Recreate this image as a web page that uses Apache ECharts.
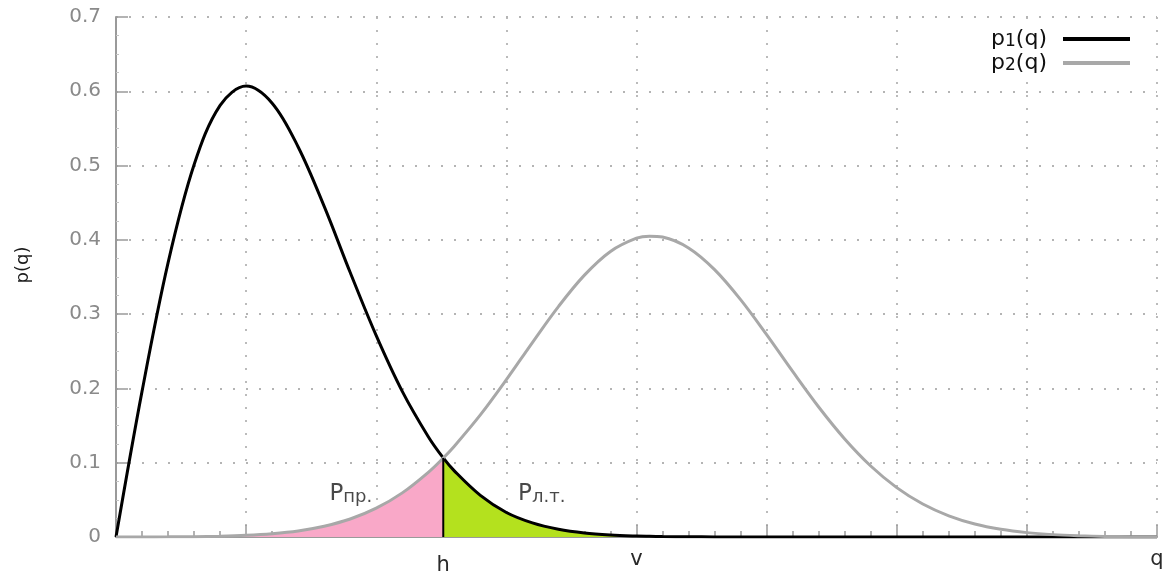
<!DOCTYPE html>
<html><head><meta charset="utf-8">
<script src="https://cdn.jsdelivr.net/npm/echarts@6/dist/echarts.min.js"></script>
<style>html,body{margin:0;padding:0;background:#fff}#c{width:1170px;height:573px}</style>
</head><body><div id="c"></div><script>
// ---- data ----
const qValues = [0,0.2,0.4,0.6,0.8,1.0,1.2,1.4,1.6,1.8,2.0,2.2,2.4,2.515,2.6,2.8,3.0,3.2,3.4,3.6,3.8,4.0,4.1,4.2,4.4,4.6,4.8,5.0,5.2,5.4,5.6,5.8,6.0,6.2,6.4,6.6,6.8,7.0,7.2,7.4,7.6,7.8,8.0];
const p1Values = [0,0.196,0.369,0.501,0.581,0.607,0.584,0.525,0.445,0.356,0.271,0.196,0.135,0.1064,0.089,0.056,0.033,0.019,0.0105,0.0055,0.0028,0.0013,0.0009,0.0006,0.0003,0.0001,0,0,0,0,0,0,0,0,0,0,0,0,0,0,0,0,0];
const p2Values = [0,0.0001,0.0002,0.0005,0.0011,0.0023,0.0045,0.0082,0.0145,0.0242,0.0388,0.0594,0.0871,0.1064,0.1223,0.1644,0.2118,0.2618,0.3102,0.3525,0.3844,0.4022,0.4050,0.4038,0.3891,0.3599,0.3195,0.2723,0.2228,0.1750,0.1320,0.0956,0.0665,0.0444,0.0285,0.0175,0.0104,0.0059,0.0032,0.0017,0.0008,0.0004,0.0002];
const hValue = 2.515;
const vValue = 4;
const qMax = 8;
const xMarkValues = [hValue, vValue, qMax];
const xMarkLabels = ['h', 'v', 'q'];
const seriesNames = ['p1(q)', 'p2(q)'];
const noteAnchors = [[1.64, 0.058], [3.09, 0.058]];
const noteMain = ['P', 'P'];
const noteSub = ['пр.', 'л.т.'];

// ---- derived ----
const p1Data = qValues.map((q, i) => [q, p1Values[i]]);
const p2Data = qValues.map((q, i) => [q, p2Values[i]]);
const pinkData = p2Data.filter(d => d[0] <= hValue);
const greenData = p1Data.filter(d => d[0] >= hValue);
const hIdx = qValues.indexOf(hValue);
const hLineData = [[hValue, 0], [hValue, p1Values[hIdx]]];

const FONT = 'DejaVu Sans';
const axisGray = '#9a9a9a';
const gridLine = {show: true, lineStyle: {color: '#b4b4b4', width: 1.8, type: [2, 11]}};

const chart = echarts.init(document.getElementById('c'), null, {renderer: 'canvas'});
chart.setOption({
  animation: false,
  backgroundColor: '#fff',
  textStyle: {fontFamily: FONT},
  grid: {left: 116, right: 13, top: 17, bottom: 36, containLabel: false, outerBoundsMode: 'none'},
  xAxis: {
    type: 'value', min: 0, max: qMax, interval: 1,
    axisLine: {show: true, onZero: false, lineStyle: {color: axisGray, width: 2}},
    axisTick: {show: true, inside: true, length: 12, lineStyle: {color: axisGray, width: 1.5}},
    minorTick: {show: true, splitNumber: 5, length: 6, lineStyle: {color: axisGray, width: 1.5}},
    splitLine: gridLine,
    axisLabel: {
      customValues: xMarkValues,
      margin: 12,
      formatter: v => {
        const i = xMarkValues.findIndex(m => Math.abs(m - v) < 1e-6);
        return i < 0 ? '' : '{' + xMarkLabels[i] + '|' + xMarkLabels[i] + '}';
      },
      rich: {
        h: {fontSize: 21, color: '#2a2a2a', fontFamily: FONT, padding: [6, 0, 0, 0]},
        v: {fontSize: 21, color: '#2a2a2a', fontFamily: FONT},
        q: {fontSize: 21, color: '#2a2a2a', fontFamily: FONT}
      }
    }
  },
  yAxis: {
    type: 'value', min: 0, max: 0.7, interval: 0.1,
    name: 'p(q)', nameLocation: 'middle', nameGap: 84, nameRotate: 90,
    nameTextStyle: {color: '#1a1a1a', fontSize: 18, fontFamily: FONT, padding: [0, 0, 0, 24]},
    axisLine: {show: true, onZero: false, lineStyle: {color: axisGray, width: 2}},
    axisTick: {show: true, inside: true, length: 12, lineStyle: {color: axisGray, width: 1.5}},
    minorTick: {show: true, splitNumber: 4, length: 3, lineStyle: {color: '#c4c4c4', width: 1}},
    splitLine: gridLine,
    axisLabel: {color: '#8a8a8a', fontSize: 20, margin: 15, fontFamily: FONT}
  },
  legend: {
    orient: 'vertical', right: 26, top: 22, align: 'right',
    itemWidth: 67, itemHeight: 4, itemGap: 2,
    backgroundColor: '#fff', padding: [6, 14, 6, 14],
    data: [{name: seriesNames[0], icon: 'rect'}, {name: seriesNames[1], icon: 'rect'}],
    formatter: name => {
      const n = name === seriesNames[0] ? '1' : '2';
      return '{m|p}{s|' + n + '}{e|(q)}';
    },
    textStyle: {
      fontFamily: FONT,
      rich: {
        m: {fontSize: 22, lineHeight: 22, color: '#111', fontFamily: FONT},
        s: {fontSize: 17, lineHeight: 12, color: '#111', verticalAlign: 'bottom', fontFamily: FONT},
        e: {fontSize: 22, lineHeight: 22, color: '#111', fontFamily: FONT, padding: [0, 11, 0, 0]}
      }
    }
  },
  series: [
    {name: 'pinkArea', type: 'line', data: pinkData, smooth: 0.35, showSymbol: false, silent: true,
      lineStyle: {width: 0}, areaStyle: {color: '#f9a8c8', opacity: 1}, z: 1},
    {name: 'greenArea', type: 'line', data: greenData, smooth: 0.35, showSymbol: false, silent: true,
      lineStyle: {width: 0}, areaStyle: {color: '#b4e11e', opacity: 1}, z: 1},
    {name: seriesNames[0], type: 'line', data: p1Data, smooth: 0.35, showSymbol: false,
      lineStyle: {color: '#000', width: 3}, itemStyle: {color: '#000'}, z: 3},
    {name: seriesNames[1], type: 'line', data: p2Data, smooth: 0.35, showSymbol: false,
      lineStyle: {color: '#a8a8a8', width: 3}, itemStyle: {color: '#a8a8a8'}, z: 4},
    {name: 'hLine', type: 'line', data: hLineData, showSymbol: false, silent: true,
      lineStyle: {color: '#000', width: 2}, z: 5},
    {name: 'notes', type: 'scatter', silent: true, symbolSize: 0, z: 6,
      data: noteAnchors.map((a, i) => ({value: a, note: i})),
      label: {
        show: true, position: [0, 0], align: 'left', verticalAlign: 'middle',
        formatter: p => '{P|' + noteMain[p.dataIndex] + '}{S|' + noteSub[p.dataIndex] + '}',
        rich: {
          P: {fontSize: 23, lineHeight: 24, color: '#1a1a1a', fontFamily: FONT},
          S: {fontSize: 18, lineHeight: 14, color: '#1a1a1a', verticalAlign: 'bottom', fontFamily: FONT}
        }
      }
    }
  ]
});
</script></body></html>
